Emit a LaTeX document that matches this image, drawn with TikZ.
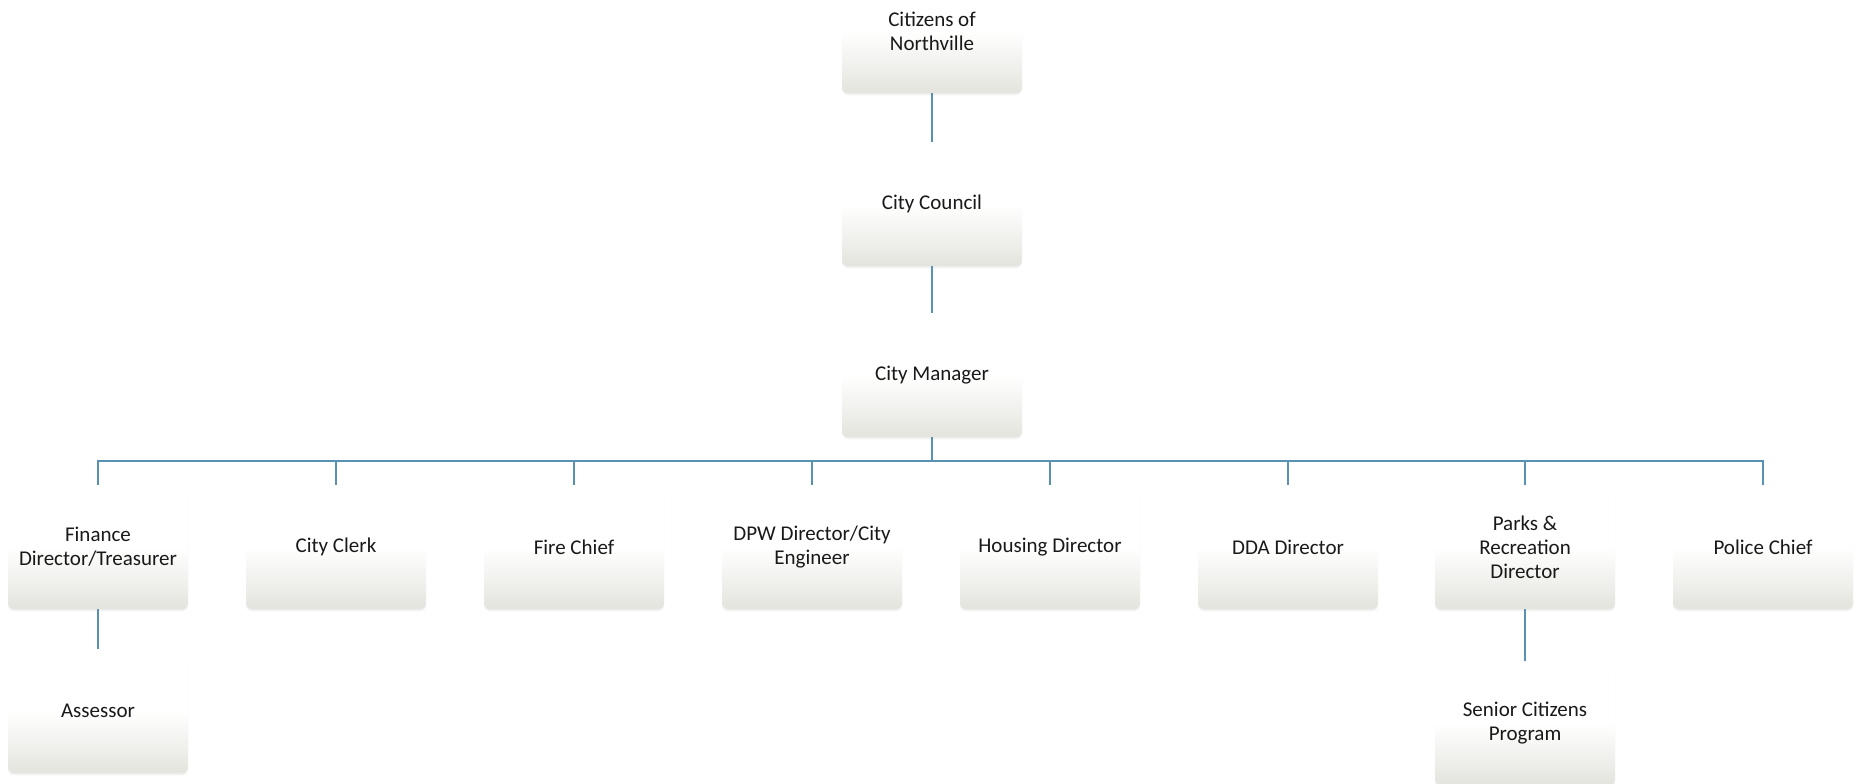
\documentclass[tikz,border=0pt]{standalone}
\usepackage{fontspec}
\setmainfont{Carlito}
\usetikzlibrary{shadows}
\definecolor{linkblue}{RGB}{88,145,178}
\definecolor{boxbot}{RGB}{228,228,222}
\definecolor{txt}{RGB}{25,25,25}
\pgfdeclareverticalshading{boxshade}{100bp}{color(0bp)=(boxbot); color(25bp)=(boxbot); color(50bp)=(white); color(100bp)=(white)}
\tikzset{
  orgbox/.style={rounded corners=6pt, minimum width=180pt, minimum height=124pt,
    align=center, inner sep=0pt, text=txt,
    shading=boxshade,
    drop shadow={shadow xshift=0pt, shadow yshift=-2pt, opacity=0.12},
    font=\fontsize{21}{24}\selectfont},
  link/.style={draw=linkblue, line width=1.8pt}
}
\begin{document}
\begin{tikzpicture}[x=1pt,y=-1pt]
\useasboundingbox (0,0) rectangle (1858,784);
\clip (0,0) rectangle (1858,784);
\node[orgbox] (cit) at (932,31) {Citizens of\\Northville};
\node[orgbox] (cou) at (932,204) {City Council};
\node[orgbox] (mgr) at (932,375) {City Manager};
\node[orgbox] (fin) at (98,547) {Finance\\Director/Treasurer};
\node[orgbox] (clk) at (336,547) {City Clerk};
\node[orgbox] (fir) at (574,547) {Fire Chief};
\node[orgbox] (dpw) at (812,547) {DPW Director/City\\Engineer};
\node[orgbox] (hou) at (1050,547) {Housing Director};
\node[orgbox] (dda) at (1288,547) {DDA Director};
\node[orgbox] (prk) at (1525,547) {Parks \&\\Recreation\\Director};
\node[orgbox] (pol) at (1763,547) {Police Chief};
\node[orgbox] (ass) at (98,711) {Assessor};
\node[orgbox] (sen) at (1525,723) {Senior Citizens\\Program};
\coordinate (bus) at (932,461);
\draw[link] (cit.south) -- (cou.north);
\draw[link] (cou.south) -- (mgr.north);
\draw[link] (mgr.south) -- (bus);
\foreach \c in {fin,clk,fir,dpw,hou,dda,prk,pol}
  \draw[link] (\c.north) |- (bus);
\draw[link] (fin.south) -- (ass.north);
\draw[link] (prk.south) -- (sen.north);
\end{tikzpicture}
\end{document}
